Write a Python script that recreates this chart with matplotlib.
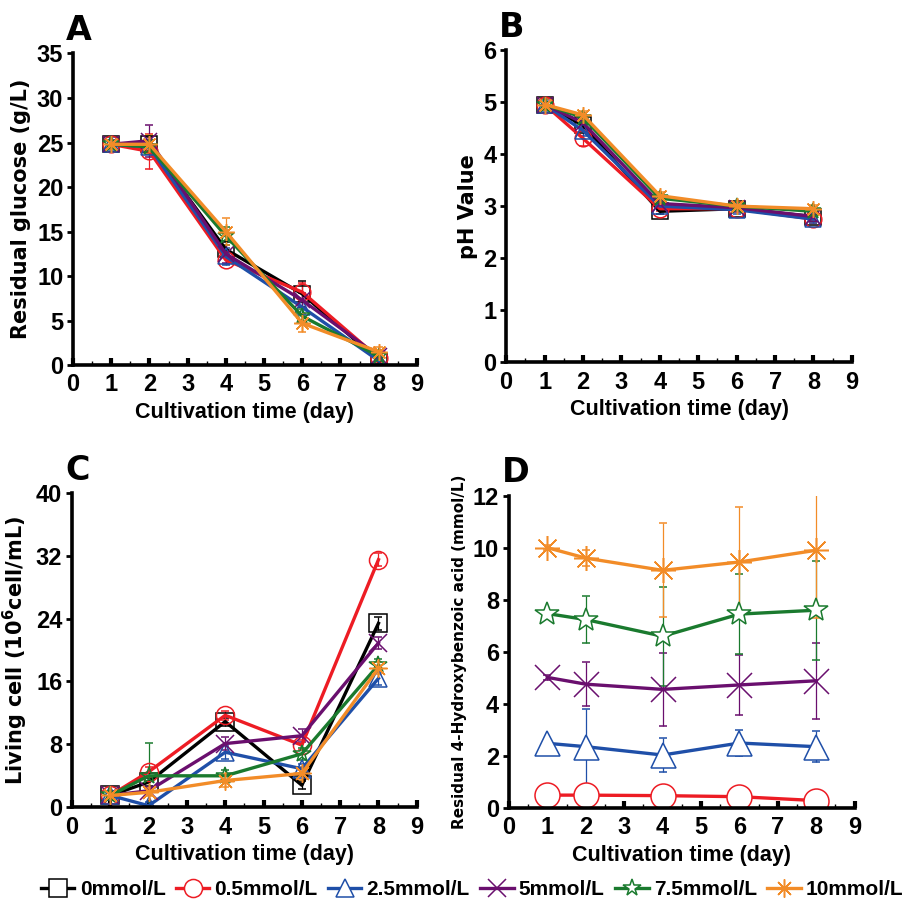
import numpy as np
import matplotlib
matplotlib.use("Agg")
from matplotlib import pyplot as plt
from matplotlib.lines import Line2D

plt.rcParams['font.family'] = ['Liberation Sans', 'DejaVu Sans']
plt.rcParams['font.weight'] = 'bold'

days = [1, 2, 4, 6, 8]
labels = ['0mmol/L', '0.5mmol/L', '2.5mmol/L', '5mmol/L', '7.5mmol/L', '10mmol/L']
colors = ['#000000', '#ed1c24', '#1f4fa8', '#6a0f6e', '#1a7a2e', '#f28c28']
markers = ['s', 'o', '^', 'x', '*', (8, 2, 0)]

# A: residual glucose (g/L)
glucose = [
    [24.8, 24.8, 13.0, 8.0, 0.5],
    [24.8, 24.0, 11.8, 8.2, 0.8],
    [24.8, 24.5, 12.2, 6.5, 0.5],
    [24.8, 25.2, 12.5, 7.3, 1.0],
    [24.8, 24.5, 14.5, 5.5, 1.0],
    [24.8, 24.8, 15.0, 4.7, 1.5],
]
glucose_err = [
    [0.5, 0.8, 0.8, 1.5, 0.4],
    [0.5, 2.0, 0.5, 1.0, 0.4],
    [0.8, 0.8, 1.0, 0.8, 0.4],
    [0.5, 1.8, 1.0, 0.8, 0.4],
    [0.5, 0.8, 1.0, 0.8, 0.4],
    [0.5, 1.0, 1.5, 1.0, 0.5],
]

# B: pH value
ph = [
    [4.95, 4.55, 2.90, 2.95, 2.80],
    [4.95, 4.30, 2.95, 2.95, 2.75],
    [4.95, 4.45, 3.00, 2.93, 2.75],
    [4.95, 4.60, 3.05, 2.97, 2.80],
    [4.95, 4.70, 3.15, 3.00, 2.90],
    [4.95, 4.75, 3.20, 3.00, 2.95],
]
ph_err = [
    [0.10, 0.10, 0.05, 0.05, 0.08],
    [0.10, 0.15, 0.05, 0.05, 0.08],
    [0.12, 0.10, 0.08, 0.08, 0.08],
    [0.10, 0.10, 0.05, 0.08, 0.08],
    [0.10, 0.08, 0.05, 0.05, 0.08],
    [0.10, 0.08, 0.08, 0.05, 0.08],
]

# C: living cell (10^6 cell/mL)
cells = [
    [1.5, 3.2, 10.9, 2.8, 23.4],
    [1.5, 4.5, 11.7, 7.9, 31.5],
    [1.5, 0.2, 7.0, 4.9, 16.4],
    [1.5, 2.1, 8.1, 9.1, 20.9],
    [1.5, 4.0, 4.0, 6.8, 18.1],
    [1.5, 1.9, 3.4, 4.3, 17.7],
]
cells_err = [
    [0.5, 0.5, 0.5, 0.5, 0.8],
    [0.5, 0.6, 0.6, 0.6, 0.8],
    [0.6, 0.5, 0.8, 0.6, 0.8],
    [0.5, 0.5, 0.8, 0.8, 0.8],
    [0.5, 4.2, 0.8, 0.8, 0.8],
    [0.5, 0.5, 0.8, 0.8, 0.8],
]

# D: residual 4-hydroxybenzoic acid (mmol/L), no 0mmol/L series
hba = [
    None,
    [0.50, 0.50, 0.48, 0.44, 0.29],
    [2.49, 2.36, 2.04, 2.50, 2.36],
    [5.02, 4.76, 4.56, 4.73, 4.89],
    [7.47, 7.24, 6.60, 7.45, 7.60],
    [10.0, 9.60, 9.13, 9.45, 9.90],
]
hba_err = [
    None,
    [0.05, 0.12, 0.12, 0.10, 0.08],
    [0.10, 1.45, 0.65, 0.50, 0.60],
    [0.10, 0.85, 1.40, 1.15, 1.45],
    [0.10, 0.90, 1.90, 1.55, 1.90],
    [0.10, 0.30, 1.80, 2.10, 2.60],
]

fig = plt.figure(figsize=(9.17, 9.06), dpi=100)
axA = fig.add_axes([0.0796, 0.597, 0.375, 0.344])
axB = fig.add_axes([0.552, 0.600, 0.377, 0.345])
axC = fig.add_axes([0.0785, 0.109, 0.376, 0.347])
axD = fig.add_axes([0.555, 0.108, 0.377, 0.345])


def draw(ax, data, err, ms, mfc):
    for i in range(len(labels)):
        if data[i] is None:
            continue
        ax.errorbar(days, data[i], yerr=err[i], color=colors[i], ecolor=colors[i],
                    elinewidth=0.9, capsize=3, capthick=0.9, lw=2.4,
                    marker=markers[i], ms=ms, mfc=mfc, mec=colors[i], mew=1.1)


def style(ax, ymax, ystep, ylabel, letter, ylsize=15):
    ax.set_xlim(0, 9)
    ax.set_ylim(0, ymax)
    ax.set_xticks(range(0, 10))
    ax.set_xticks(np.arange(0.5, 9, 1), minor=True)
    ax.set_yticks(np.arange(0, ymax + 0.001, ystep))
    for s in ['top', 'right']:
        ax.spines[s].set_visible(False)
    for s in ['left', 'bottom']:
        ax.spines[s].set_linewidth(2.6)
    ax.tick_params(axis='x', direction='in', length=5, width=3, labelsize=17, pad=6)
    ax.tick_params(axis='x', which='minor', direction='in', length=3, width=1)
    ax.tick_params(axis='y', direction='out', length=4, width=2, labelsize=17, pad=3)
    for t in ax.get_xticklabels() + ax.get_yticklabels():
        t.set_fontweight('bold')
    ax.set_xlabel('Cultivation time (day)', fontsize=15.5, fontweight='bold', labelpad=4)
    ax.set_ylabel(ylabel, fontsize=ylsize, fontweight='bold',
                  family=['DejaVu Sans'])
    ax.text(-0.02, 1.02, letter, transform=ax.transAxes, fontsize=24,
            fontweight='bold', family=['DejaVu Sans'], va='bottom', ha='left')


draw(axA, glucose, glucose_err, 12, 'none')
style(axA, 35, 5, 'Residual glucose (g/L)', 'A')
draw(axB, ph, ph_err, 12, 'none')
style(axB, 6, 1, 'pH Value', 'B')
draw(axC, cells, cells_err, 13, 'none')
style(axC, 40, 8, 'Living cell (10$^{6}$cell/mL)', 'C', ylsize=15)
draw(axD, hba, hba_err, 18, 'white')
style(axD, 12, 2, 'Residual 4-Hydroxybenzoic acid (mmol/L)', 'D', ylsize=11)

handles = [Line2D([], [], color=colors[i], lw=2.4, marker=markers[i], ms=13,
                  mfc='white', mec=colors[i], mew=1.1) for i in range(len(labels))]
leg = fig.legend(handles, labels, loc='center', bbox_to_anchor=(0.515, 0.018),
                 ncol=6, frameon=False, fontsize=15, handlelength=1.6,
                 handletextpad=0.25, columnspacing=0.5, borderpad=0.1)
for t in leg.get_texts():
    t.set_fontweight('bold')

plt.savefig('out.png', dpi=100)
